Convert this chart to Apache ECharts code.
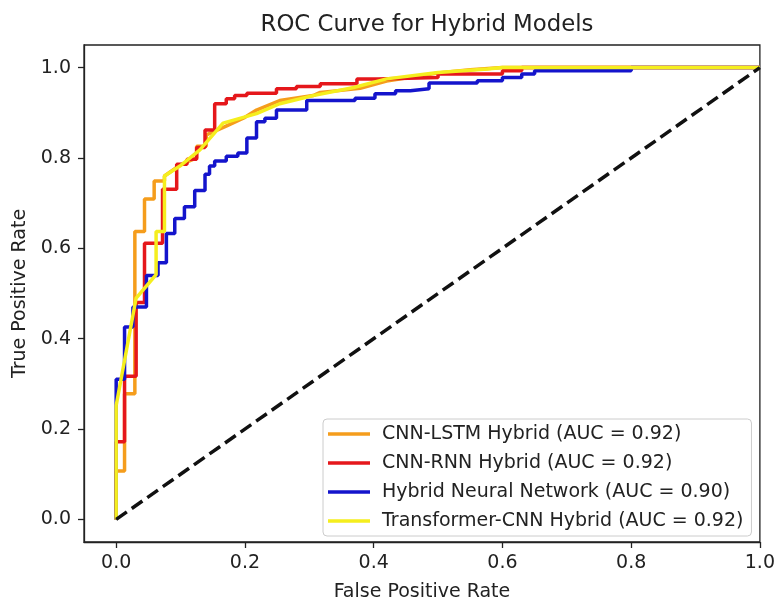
<!DOCTYPE html>
<html>
<head>
<meta charset="utf-8">
<script src="https://cdn.jsdelivr.net/npm/echarts@6/dist/echarts.min.js"></script>
<style>
  html, body { margin: 0; padding: 0; background: #fff; }
  #main { width: 778px; height: 607px; }
</style>
</head>
<body>
<div id="main"></div>
<script>
// ROC points (fpr, tpr)
var lstmFpr = [0, 0, 0.013, 0.013, 0.029, 0.029, 0.044, 0.044, 0.059, 0.059, 0.075, 0.075, 0.10, 0.125, 0.125, 0.14, 0.14, 0.17, 0.20, 0.218, 0.254, 0.306, 0.317, 0.379, 0.42, 0.5, 0.55, 0.6, 1.0];
var lstmTpr = [0, 0.107, 0.107, 0.278, 0.278, 0.637, 0.637, 0.709, 0.709, 0.749, 0.749, 0.76, 0.785, 0.80, 0.826, 0.826, 0.851, 0.87, 0.89, 0.906, 0.927, 0.938, 0.945, 0.954, 0.97, 0.988, 0.995, 1.0, 1.0];

var rnnFpr = [0, 0, 0.013, 0.013, 0.031, 0.031, 0.044, 0.044, 0.072, 0.072, 0.094, 0.094, 0.11, 0.11, 0.125, 0.125, 0.138, 0.138, 0.153, 0.153, 0.171, 0.171, 0.184, 0.184, 0.203, 0.203, 0.249, 0.249, 0.28, 0.28, 0.317, 0.317, 0.374, 0.374, 0.407, 0.407, 0.5, 0.5, 0.6, 0.6, 0.63, 0.63, 1.0];
var rnnTpr = [0, 0.172, 0.172, 0.317, 0.317, 0.48, 0.48, 0.611, 0.611, 0.731, 0.731, 0.786, 0.786, 0.797, 0.797, 0.823, 0.823, 0.862, 0.862, 0.92, 0.92, 0.931, 0.931, 0.938, 0.938, 0.943, 0.943, 0.953, 0.953, 0.958, 0.958, 0.964, 0.964, 0.975, 0.975, 0.978, 0.978, 0.986, 0.986, 0.993, 0.993, 1.0, 1.0];

var hnnFpr = [0, 0, 0.013, 0.013, 0.026, 0.026, 0.047, 0.047, 0.065, 0.065, 0.078, 0.078, 0.091, 0.091, 0.106, 0.106, 0.122, 0.122, 0.138, 0.138, 0.145, 0.145, 0.153, 0.153, 0.171, 0.171, 0.189, 0.189, 0.203, 0.203, 0.218, 0.218, 0.231, 0.231, 0.249, 0.249, 0.296, 0.296, 0.371, 0.371, 0.402, 0.402, 0.434, 0.434, 0.457, 0.457, 0.486, 0.486, 0.561, 0.561, 0.6, 0.6, 0.63, 0.63, 0.65, 0.65, 0.8, 0.8, 1.0];
var hnnTpr = [0, 0.31, 0.31, 0.426, 0.426, 0.47, 0.47, 0.54, 0.54, 0.568, 0.568, 0.633, 0.633, 0.666, 0.666, 0.692, 0.692, 0.728, 0.728, 0.764, 0.764, 0.782, 0.782, 0.793, 0.793, 0.804, 0.804, 0.811, 0.811, 0.844, 0.844, 0.88, 0.88, 0.888, 0.888, 0.906, 0.906, 0.927, 0.927, 0.932, 0.932, 0.942, 0.942, 0.949, 0.949, 0.953, 0.953, 0.966, 0.966, 0.971, 0.971, 0.978, 0.978, 0.986, 0.986, 0.993, 0.993, 1.0, 1.0];

var tcnnFpr = [0, 0, 0.031, 0.062, 0.062, 0.075, 0.075, 0.099, 0.13, 0.166, 0.218, 0.254, 0.306, 0.369, 0.42, 0.5, 0.577, 0.6, 1.0];
var tcnnTpr = [0, 0.252, 0.49, 0.542, 0.637, 0.637, 0.76, 0.782, 0.818, 0.877, 0.898, 0.92, 0.938, 0.956, 0.975, 0.989, 0.997, 1.0, 1.0];

var chanceX = [0, 1];
var chanceY = [0, 1];

var modelNames = [
  'CNN-LSTM Hybrid (AUC = 0.92)',
  'CNN-RNN Hybrid (AUC = 0.92)',
  'Hybrid Neural Network (AUC = 0.90)',
  'Transformer-CNN Hybrid (AUC = 0.92)'
];
var tickValues = [0, 0.2, 0.4, 0.6, 0.8, 1.0];

function pairs(xs, ys) {
  return xs.map(function (x, i) { return [x, ys[i]]; });
}

var font = 'DejaVu Sans';
var ink = '#222';

var chart = echarts.init(document.getElementById('main'));
chart.setOption({
  animation: false,
  backgroundColor: '#fff',
  title: {
    text: 'ROC Curve for Hybrid Models',
    left: 422,
    textAlign: 'center',
    top: 9,
    textStyle: { fontFamily: font, fontSize: 22.8, fontWeight: 'normal', color: ink }
  },
  grid: {
    left: 84, right: 16, top: 45, bottom: 59,
    show: true, borderColor: ink, borderWidth: 1.3, backgroundColor: 'transparent'
  },
  legend: {
    data: modelNames,
    orient: 'vertical',
    left: 323,
    top: 419,
    padding: [5, 8, 5, 5],
    itemGap: 9,
    itemWidth: 42,
    itemHeight: 3.5,
    icon: 'rect',
    backgroundColor: 'rgba(255,255,255,0.85)',
    borderColor: '#cccccc',
    borderWidth: 1,
    borderRadius: 4,
    textStyle: { fontFamily: font, fontSize: 19, color: ink, lineHeight: 20, padding: [0, 0, 0, 7] }
  },
  xAxis: {
    type: 'value',
    min: -0.05,
    max: 1.0,
    name: 'False Positive Rate',
    nameLocation: 'middle',
    nameGap: 41,
    nameTextStyle: { fontFamily: font, fontSize: 19, color: ink },
    splitLine: { show: false },
    axisLine: { show: true, onZero: false, lineStyle: { color: ink, width: 1.3 } },
    axisTick: { show: true, length: 6, customValues: tickValues, lineStyle: { color: ink, width: 1.3 } },
    axisLabel: {
      customValues: tickValues, margin: 12,
      fontFamily: font, fontSize: 19, color: ink,
      formatter: function (v) { return v.toFixed(1); }
    }
  },
  yAxis: {
    type: 'value',
    min: -0.05,
    max: 1.05,
    name: 'True Positive Rate',
    nameLocation: 'middle',
    nameGap: 54,
    nameTextStyle: { fontFamily: font, fontSize: 19, color: ink },
    splitLine: { show: false },
    axisLine: { show: true, onZero: false, lineStyle: { color: ink, width: 1.3 } },
    axisTick: { show: true, length: 6, customValues: tickValues, lineStyle: { color: ink, width: 1.3 } },
    axisLabel: {
      customValues: tickValues, margin: 13,
      fontFamily: font, fontSize: 19, color: ink,
      formatter: function (v) { return v.toFixed(1); }
    }
  },
  series: [
    {
      name: modelNames[0], type: 'line', showSymbol: false, color: '#f59d1c',
      lineStyle: { width: 3.5 }, data: pairs(lstmFpr, lstmTpr)
    },
    {
      name: modelNames[1], type: 'line', showSymbol: false, color: '#e5171b',
      lineStyle: { width: 3.5 }, data: pairs(rnnFpr, rnnTpr)
    },
    {
      name: modelNames[2], type: 'line', showSymbol: false, color: '#1414cc',
      lineStyle: { width: 3.5 }, data: pairs(hnnFpr, hnnTpr)
    },
    {
      name: modelNames[3], type: 'line', showSymbol: false, color: '#f5ee1e',
      lineStyle: { width: 3.5 }, data: pairs(tcnnFpr, tcnnTpr)
    },
    {
      name: 'chance', type: 'line', showSymbol: false, color: '#111',
      lineStyle: { width: 3.5, type: [13, 6] }, data: pairs(chanceX, chanceY)
    }
  ]
});
</script>
</body>
</html>
